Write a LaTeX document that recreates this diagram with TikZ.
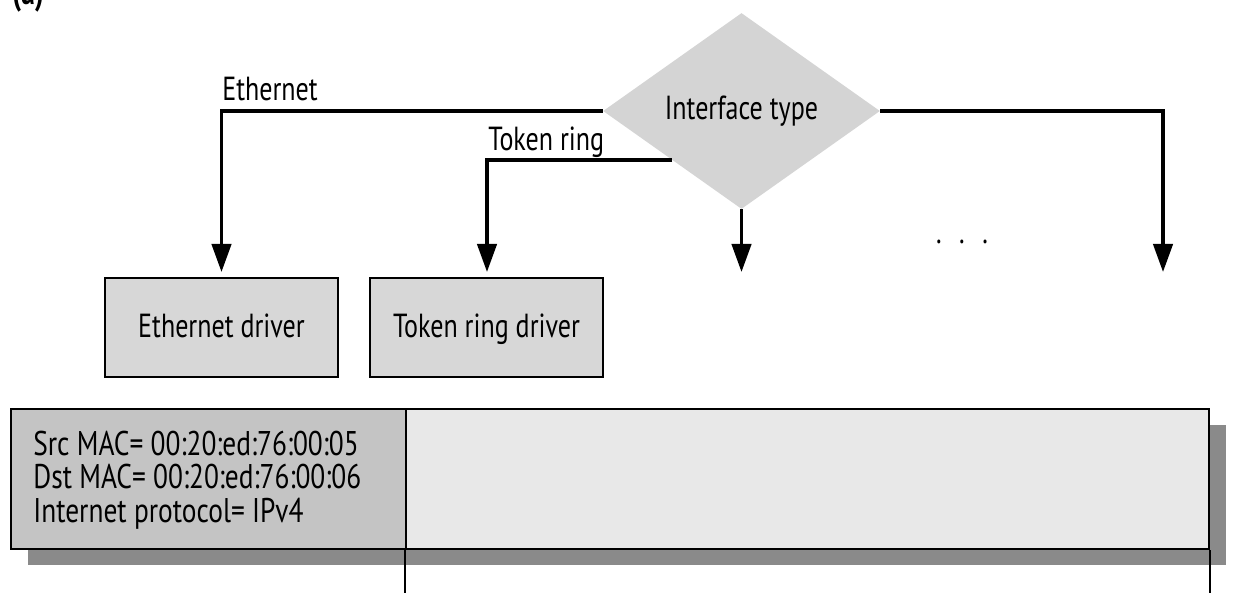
\documentclass[tikz,border=0pt]{standalone}
\usepackage{fontspec}
\setmainfont[FakeStretch=0.78]{PT Sans}
\newfontfamily\macfont[FakeStretch=0.8]{PT Sans}
\usetikzlibrary{shapes.geometric,arrows.meta,calc}
\definecolor{diagray}{HTML}{D4D4D4}
\definecolor{boxgray}{HTML}{D7D7D7}
\definecolor{leftgray}{HTML}{C4C4C4}
\definecolor{rightgray}{HTML}{E8E8E8}
\definecolor{shadowgray}{HTML}{8A8A8A}
\begin{document}
\begin{tikzpicture}[x=0.02cm,y=-0.02cm,
  conn/.style={line width=2pt,-{Triangle[length=16pt,width=11pt]}},
  drv/.style={draw,line width=1.3pt,fill=boxgray,minimum height=1.98cm,minimum width=4.66cm,inner sep=0pt},
  lbl/.style={font=\fontsize{19}{20}\selectfont,inner sep=0pt},
  mactxt/.style={font=\macfont\fontsize{19.5}{20}\selectfont,inner sep=0pt,anchor=base west},
  frame/.style={draw,line width=1.3pt,minimum height=2.8cm,inner sep=0pt,anchor=north west},
]
\useasboundingbox (0,0) rectangle (1239,592);
\fill[white] (0,0) rectangle (1239,592);

% figure tag
\node[anchor=base west,font=\bfseries\fontsize{20}{20}\selectfont,inner sep=0pt] (fig) at (12,4) {(a)};

% decision diamond
\node[diamond,fill=diagray,minimum width=5.54cm,minimum height=3.92cm,inner sep=0pt] (dia) at (741.5,111) {};
\node[lbl,anchor=base] (diatxt) at (741.5,119) {Interface type};

% drivers
\node[drv] (eth) at (221.5,327.5) {};
\node[lbl,anchor=base] (ethtxt) at (221.5,337) {Ethernet driver};
\node[drv] (tok) at (486.5,327.5) {};
\node[lbl,anchor=base] (toktxt) at (486.5,337) {Token ring driver};

% arrow tips
\coordinate (t1) at (221.5,272);
\coordinate (t2) at (487,272);
\coordinate (t3) at (741.5,272);
\coordinate (t4) at (1163,272);

\draw[conn] (dia.west) -| (t1);
\draw[conn] ($(dia.west)!0.5!(dia.south)$) -| (t2);
\draw[conn] (dia.south) -- (t3);
\draw[conn] (dia.east) -| (t4);

\node[lbl,anchor=base west] (ethlbl) at (222,100) {Ethernet};
\node[lbl,anchor=base west] (toklbl) at (488,150) {Token ring};
\node[lbl,anchor=base] (dots) at (962,243) {.\hspace{10pt}.\hspace{10pt}.};

% frame
\fill[shadowgray] (28,425) rectangle (1226,565);
\node[frame,fill=leftgray,minimum width=7.9cm] (hdr) at (10,408) {};
\node[frame,fill=rightgray,minimum width=16.06cm] (pay) at (405,408) {};
\draw[line width=1.1pt] (pay.south west) -- ++(0,50);
\draw[line width=1.1pt] (pay.south east) -- ++(0,50);

\node[mactxt] (mac1) at (33,455) {Src MAC= 00:20:ed:76:00:05};
\node[mactxt] (mac2) at (33,488.5) {Dst MAC= 00:20:ed:76:00:06};
\node[mactxt] (mac3) at (33,522) {Internet protocol= IPv4};
\end{tikzpicture}
\end{document}
